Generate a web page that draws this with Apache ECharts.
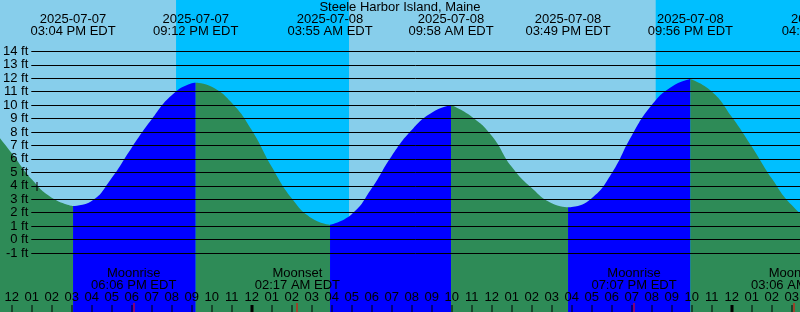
<!DOCTYPE html>
<html><head><meta charset="utf-8">
<script src="https://cdn.jsdelivr.net/npm/echarts@6/dist/echarts.min.js"></script>
<style>html,body{margin:0;padding:0;background:#87CEEB;overflow:hidden}#c{width:800px;height:312px}</style>
</head><body><div id="c"></div>
<script>
// ---------- DATA ----------
const chartTitle = 'Steele Harbor Island, Maine';
const baseTime = '2025-07-07 12:00';
const tideEventTimes = ['2025-07-07 15:04','2025-07-07 21:12','2025-07-08 03:55','2025-07-08 09:58','2025-07-08 15:49','2025-07-08 21:56','2025-07-09 04:38'];
const tideEventDates = ['2025-07-07','2025-07-07','2025-07-08','2025-07-08','2025-07-08','2025-07-08','2025-07-09'];
const tideEventClock = ['03:04 PM EDT','09:12 PM EDT','03:55 AM EDT','09:58 AM EDT','03:49 PM EDT','09:56 PM EDT','04:38 AM EDT'];
const tideEventKind = ['low','high','low','high','low','high','low'];
const tideEventHeights = [2.5, 11.67, 1.09, 10.0, 2.4, 11.94, 1.35];
// tide height readings (ft) at clock hours
const readTimes = ['2025-07-07 11:00','2025-07-07 12:00','2025-07-07 13:00','2025-07-07 14:00','2025-07-07 16:00','2025-07-07 17:00','2025-07-07 18:00','2025-07-07 19:00','2025-07-07 20:00','2025-07-07 21:00','2025-07-07 22:00','2025-07-07 23:00','2025-07-08 00:00','2025-07-08 01:00','2025-07-08 02:00','2025-07-08 03:00','2025-07-08 05:00','2025-07-08 06:00','2025-07-08 07:00','2025-07-08 08:00','2025-07-08 09:00','2025-07-08 11:00','2025-07-08 12:00','2025-07-08 13:00','2025-07-08 14:00','2025-07-08 15:00','2025-07-08 16:00','2025-07-08 17:00','2025-07-08 18:00','2025-07-08 19:00','2025-07-08 20:00','2025-07-08 21:00','2025-07-08 23:00','2025-07-09 00:00','2025-07-09 01:00','2025-07-09 02:00','2025-07-09 03:00','2025-07-09 04:00'];
const readHeights = [8.3, 6.42, 4.48, 3.12, 2.87, 4.58, 6.83, 8.94, 10.73, 11.62, 11.37, 10.18, 8.15, 5.42, 3.07, 1.58, 1.88, 3.81, 6.22, 8.15, 9.44, 9.14, 7.73, 5.42, 3.84, 2.70, 2.42, 3.07, 4.93, 7.73, 10.0, 11.37, 11.02, 9.14, 6.93, 4.56, 2.57, 1.5];
const nightBands = [['2025-07-07 20:13','2025-07-08 04:52'],['2025-07-08 20:12','2025-07-09 04:53']];
const moonTimes = ['2025-07-07 18:06','2025-07-08 02:17','2025-07-08 19:07','2025-07-09 03:06'];
const moonNames = ['Moonrise','Moonset','Moonrise','Moonset'];
const moonClock = ['06:06 PM EDT','02:17 AM EDT','07:07 PM EDT','03:06 AM EDT'];
const hourTimes = ['2025-07-07 11:00','2025-07-07 12:00','2025-07-07 13:00','2025-07-07 14:00','2025-07-07 15:00','2025-07-07 16:00','2025-07-07 17:00','2025-07-07 18:00','2025-07-07 19:00','2025-07-07 20:00','2025-07-07 21:00','2025-07-07 22:00','2025-07-07 23:00','2025-07-08 00:00','2025-07-08 01:00','2025-07-08 02:00','2025-07-08 03:00','2025-07-08 04:00','2025-07-08 05:00','2025-07-08 06:00','2025-07-08 07:00','2025-07-08 08:00','2025-07-08 09:00','2025-07-08 10:00','2025-07-08 11:00','2025-07-08 12:00','2025-07-08 13:00','2025-07-08 14:00','2025-07-08 15:00','2025-07-08 16:00','2025-07-08 17:00','2025-07-08 18:00','2025-07-08 19:00','2025-07-08 20:00','2025-07-08 21:00','2025-07-08 22:00','2025-07-08 23:00','2025-07-09 00:00','2025-07-09 01:00','2025-07-09 02:00','2025-07-09 03:00','2025-07-09 04:00'];
const hourLabels = ['11','12','01','02','03','04','05','06','07','08','09','10','11','12','01','02','03','04','05','06','07','08','09','10','11','12','01','02','03','04','05','06','07','08','09','10','11','12','01','02','03','04'];
const nowMark = ['2025-07-07 13:17', 4];
const yTicks = {min: -1, max: 14, step: 1, unit: ' ft'};

// ---------- helpers ----------
function H(s){const [d,t]=s.split(' ');const [Y,M,D]=d.split('-').map(Number);const [h,m]=t.split(':').map(Number);
  const [bd,bt]=baseTime.split(' ');const [bY,bM,bD]=bd.split('-').map(Number);const [bh,bm]=bt.split(':').map(Number);
  return (Date.UTC(Y,M-1,D,h,m)-Date.UTC(bY,bM-1,bD,bh,bm))/3600000;}

// layout
const W=800, HT=312, zeroY=239.6, pxPerFt=13.45, firstHourX=11.7, pxPerHour=20;
const xMin=-firstHourX/pxPerHour, xMax=(W-firstHourX)/pxPerHour;
const yMin=-(HT-zeroY)/pxPerFt, yMax=zeroY/pxPerFt;
const FONT='13px "Liberation Sans", Arial, sans-serif';
const COL={day:'#87CEEB',night:'#00BFFF',rise:'#0000FF',fall:'#2E8B57'};

// build segments
const evH=tideEventTimes.map(H);
const pts=readTimes.map((t,i)=>[H(t),readHeights[i]]).concat(evH.map((h,i)=>[h,tideEventHeights[i]])).sort((a,b)=>a[0]-b[0]);
const bounds=[-Infinity,...evH,Infinity];
const segSeries=[];
for(let k=0;k<bounds.length-1;k++){
  const a=bounds[k],b=bounds[k+1];
  const data=pts.filter(p=>p[0]>=a-1e-9&&p[0]<=b+1e-9);
  if(data.length<2) continue;
  let rising = k<evH.length ? tideEventKind[k]==='high' : tideEventKind[evH.length-1]==='low';
  segSeries.push({type:'line',xAxisIndex:0,yAxisIndex:0,data,smooth:0.5,symbol:'none',showSymbol:false,silent:true,
    lineStyle:{width:0},areaStyle:{color:rising?COL.rise:COL.fall,opacity:1,origin:'start'},z:2,animation:false});
}

const chart=echarts.init(document.getElementById('c'),null,{renderer:'canvas',width:W,height:HT});
const yVals=[];for(let v=yTicks.min;v<=yTicks.max;v+=yTicks.step)yVals.push(v);

const option={
  backgroundColor:COL.day,
  animation:false,
  title:{text:chartTitle,left:'center',top:1,padding:0,textStyle:{fontSize:13,fontWeight:'normal',color:'#000',fontFamily:'"Liberation Sans", Arial, sans-serif'}},
  grid:[{left:0,right:0,top:0,bottom:0},{left:29,right:0,top:zeroY-yTicks.max*pxPerFt,bottom:HT-(zeroY-yTicks.min*pxPerFt)}],
  xAxis:[{type:'value',gridIndex:0,min:xMin,max:xMax,show:false},{type:'value',gridIndex:1,min:0,max:1,show:false}],
  yAxis:[{type:'value',gridIndex:0,min:yMin,max:yMax,show:false},
    {type:'value',gridIndex:1,min:yTicks.min,max:yTicks.max,interval:yTicks.step,z:5,
     axisLine:{show:false},axisTick:{show:false},
     axisLabel:{formatter:'{value}'+yTicks.unit,color:'#000',fontSize:13,fontFamily:'"Liberation Sans", Arial, sans-serif',margin:3},
     splitLine:{show:true,lineStyle:{color:'#000',width:1}}}],
  series:[
    {type:'custom',xAxisIndex:0,yAxisIndex:0,z:1,silent:true,clip:false,
     data:nightBands.map(b=>[H(b[0]),H(b[1])]),encode:{x:[0,1]},
     renderItem:(p,api)=>{const x0=api.coord([api.value(0),0])[0],x1=api.coord([api.value(1),0])[0];
       return {type:'rect',shape:{x:x0,y:0,width:x1-x0,height:HT},style:{fill:COL.night}};}},
    ...segSeries,
    {type:'custom',xAxisIndex:0,yAxisIndex:0,z:6,silent:true,clip:false,
     data:evH.map((h,i)=>[h,i]),encode:{x:0},
     renderItem:(p,api)=>{const x=api.coord([api.value(0),0])[0];const i=api.value(1);
       return {type:'group',children:[
         {type:'text',x:x,y:19.5,style:{text:tideEventDates[i],font:FONT,fill:'#000',align:'center',verticalAlign:'middle'}},
         {type:'text',x:x,y:31.5,style:{text:tideEventClock[i],font:FONT,fill:'#000',align:'center',verticalAlign:'middle'}}]};}},
    {type:'custom',xAxisIndex:0,yAxisIndex:0,z:6,silent:true,clip:false,
     data:hourTimes.map((t,i)=>[H(t),i]),encode:{x:0},
     renderItem:(p,api)=>{const x=api.coord([api.value(0),0])[0];const i=api.value(1);
       const midnight=hourTimes[i].endsWith('00:00');
       return {type:'group',children:[
         {type:'rect',shape:{x:midnight?Math.round(x)-1.5:Math.round(x)-0.5,y:305,width:midnight?3:1,height:7},style:{fill:'#000'}},
         {type:'text',x:x,y:297.5,style:{text:hourLabels[i],font:FONT,fill:'#000',align:'center',verticalAlign:'middle'}}]};}},
    {type:'custom',xAxisIndex:0,yAxisIndex:0,z:7,silent:true,clip:false,
     data:moonTimes.map((t,i)=>[H(t),i]),encode:{x:0},
     renderItem:(p,api)=>{const x=api.coord([api.value(0),0])[0];const i=api.value(1);
       return {type:'group',children:[
         {type:'rect',shape:{x:Math.round(x)-0.5,y:303,width:1,height:9},style:{fill:'#FF0000'}},
         {type:'text',x:x,y:273.5,style:{text:moonNames[i],font:FONT,fill:'#000',align:'center',verticalAlign:'middle'}},
         {type:'text',x:x,y:285.5,style:{text:moonClock[i],font:FONT,fill:'#000',align:'center',verticalAlign:'middle'}}]};}},
    {type:'custom',xAxisIndex:0,yAxisIndex:0,z:7,silent:true,clip:false,
     data:[[H(nowMark[0]),nowMark[1]]],encode:{x:0,y:1},
     renderItem:(p,api)=>{const c=api.coord([api.value(0),api.value(1)]);
       return {type:'rect',shape:{x:Math.round(c[0])-0.5,y:Math.round(c[1])-4,width:1,height:9},style:{fill:'#000'}};}}
  ]
};
chart.setOption(option);
</script></body></html>
